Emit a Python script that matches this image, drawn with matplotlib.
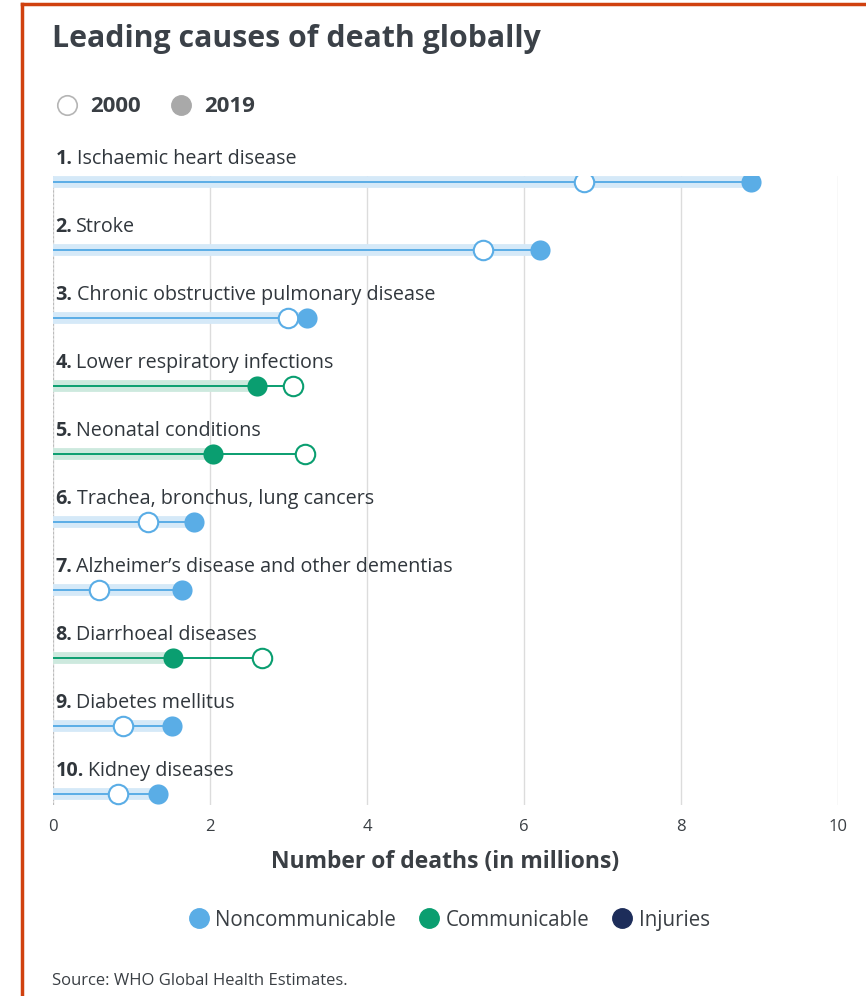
import matplotlib.pyplot as plt
from matplotlib.lines import Line2D

plt.rcParams['font.family'] = ['Open Sans', 'DejaVu Sans']

# data (millions of deaths)
causes = ["Ischaemic heart disease", "Stroke", "Chronic obstructive pulmonary disease",
          "Lower respiratory infections", "Neonatal conditions",
          "Trachea, bronchus, lung cancers", "Alzheimer\u2019s disease and other dementias",
          "Diarrhoeal diseases", "Diabetes mellitus", "Kidney diseases"]
deaths_2000 = [6.76, 5.48, 2.99, 3.06, 3.21, 1.21, 0.59, 2.66, 0.89, 0.83]
deaths_2019 = [8.89, 6.20, 3.24, 2.60, 2.04, 1.80, 1.64, 1.53, 1.52, 1.34]
group = ["Noncommunicable", "Noncommunicable", "Noncommunicable", "Communicable",
         "Communicable", "Noncommunicable", "Noncommunicable", "Communicable",
         "Noncommunicable", "Noncommunicable"]
groups = ["Noncommunicable", "Communicable", "Injuries"]

col = {"Noncommunicable": "#5aade6", "Communicable": "#0a9e70", "Injuries": "#1d2d5a"}
band = {"Noncommunicable": "#d5e9f8", "Communicable": "#cde9de", "Injuries": "#d0d5e0"}
txt = "#30363c"

fig = plt.figure(figsize=(8.66, 9.96), dpi=100)
ax = fig.add_axes([53 / 866, 1 - 805 / 996, (838 - 53) / 866, (805 - 176) / 996])

for i, (name, a, b, g) in enumerate(zip(causes, deaths_2000, deaths_2019, group)):
    ax.plot([0, b], [i, i], color=band[g], lw=8.5, solid_capstyle='butt', zorder=2)
    ax.plot([0, max(a, b)], [i, i], color=col[g], lw=1.4, zorder=3)
    ax.plot(a, i, 'o', ms=14, mfc='white', mec=col[g], mew=1.5, zorder=4)
    ax.plot(b, i, 'o', ms=14.5, mfc=col[g], mec=col[g], mew=0, zorder=5)
    num = ax.text(0.03, i - 0.20, f"{i + 1}.", fontsize=14.2, fontweight='bold',
                  color=txt, va='bottom', ha='left')
    ax.annotate(name, xy=(1, 0), xycoords=num, xytext=(3, 0), textcoords='offset points',
                fontsize=14.2, color=txt, va='bottom', ha='left')

ax.set_xlim(0, 10)
ax.set_ylim(9.16, -0.09)
ax.set_xticks([0, 2, 4, 6, 8, 10])
ax.set_yticks([])
ax.grid(axis='x', color='#dcdcdc', lw=1)
ax.axvline(0, color='#bbbbbb', lw=1.5, ls=(0, (1, 1)), zorder=1)
for s in ax.spines.values():
    s.set_visible(False)
ax.tick_params(axis='x', length=0, pad=10, labelsize=12, labelcolor='#3a3f44')
ax.set_xlabel("Number of deaths (in millions)", fontsize=16.5, fontweight='bold',
              color='#3a3f44', labelpad=11)
ax.set_axisbelow(True)

# year legend
yr = [Line2D([], [], ls='none', marker='o', ms=14, mfc='white', mec='#b5b5b5', mew=1.2),
      Line2D([], [], ls='none', marker='o', ms=14, mfc='#a9a9a9', mec='#a9a9a9')]
fig.legend(yr, ["2000", "2019"], loc='center left', bbox_to_anchor=(34 / 866, 1 - 107 / 996),
           ncol=2, frameon=False, handletextpad=0.45, columnspacing=1.2, handlelength=1.2,
           prop={'weight': 'bold', 'size': 16}, labelcolor='#3a3f44')

# category legend
ch = [Line2D([], [], ls='none', marker='o', ms=14, mfc=col[g], mec=col[g]) for g in groups]
fig.legend(ch, groups, loc='center', bbox_to_anchor=(448 / 866, 1 - 920 / 996), ncol=3,
           frameon=False, handletextpad=0.2, columnspacing=1.0, handlelength=1.2,
           fontsize=14.8, labelcolor='#3a3f44')

fig.text(52 / 866, 1 - 39 / 996, "Leading causes of death globally", fontsize=21.8,
         fontweight='bold', color='#3b4148', va='center')
fig.text(52 / 866, 1 - 981 / 996, "Source: WHO Global Health Estimates.", fontsize=12,
         color='#3a3f44', va='center')

# red frame
fig.add_artist(Line2D([22 / 866, 22 / 866], [0, 1 - 4 / 996], color='#d0410f', lw=2.5))
fig.add_artist(Line2D([22 / 866, 1], [1 - 4 / 996, 1 - 4 / 996], color='#d0410f', lw=2.5))

fig.savefig("out.png", dpi=100)
